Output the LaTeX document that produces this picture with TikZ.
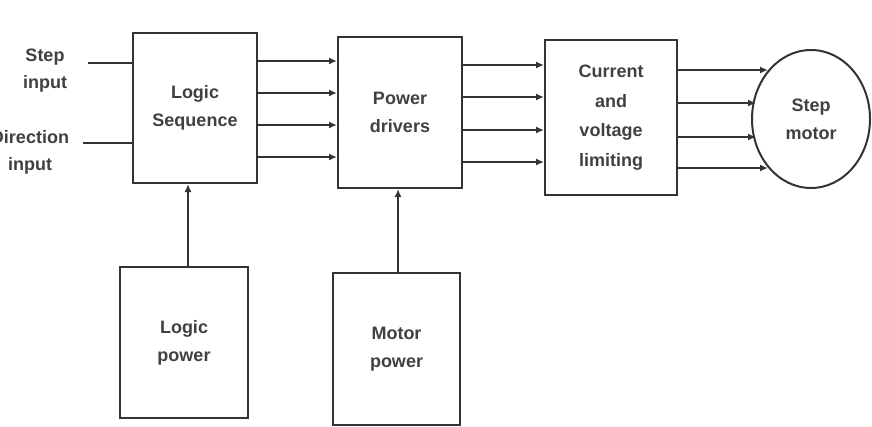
\documentclass[tikz,border=0pt]{standalone}
\usepackage{fontspec}
\setmainfont{Liberation Sans}
\usetikzlibrary{arrows.meta,shapes.geometric}
\begin{document}
\begin{tikzpicture}[x=1pt,y=-1pt,
  blk/.style={draw=black!80,line width=2pt,inner sep=0pt,align=center,font=\fontsize{18}{28}\selectfont\bfseries,text=black!75},
  wire/.style={draw=black!80,line width=2pt},
  arr/.style={wire,-{Latex[length=8pt,width=7pt]}},
  lbl/.style={font=\fontsize{18}{27}\selectfont\bfseries,text=black!75,align=center}]
\useasboundingbox (0,0) rectangle (872,426);
\clip (0,0) rectangle (872,426);
\node[blk,minimum width=124pt,minimum height=150pt] (ls) at (195,108) {Logic\\Sequence};
\node[blk,minimum width=124pt,minimum height=151pt] (pd) at (400,112.5) {Power\\drivers};
\node[blk,minimum width=132pt,minimum height=155pt,font=\fontsize{18}{29.5}\selectfont\bfseries] (cv) at (611,117.5) {Current\\and\\voltage\\limiting};
\node[blk,ellipse,minimum width=118pt,minimum height=138pt] (sm) at (811,119) {Step\\motor};
\node[blk,minimum width=128pt,minimum height=151pt] (lp) at (184,342.5) {Logic\\power};
\node[blk,minimum width=127pt,minimum height=152pt] (mp) at (396.5,349) {Motor\\power};
\node[lbl] (si) at (45,71) {Step\\input};
\node[lbl] (di) at (30,152) {Direction\\input};
\coordinate (sie) at (88,63);
\coordinate (die) at (83,143);
\draw[wire] (sie) -- (sie -| ls.west);
\draw[wire] (die) -- (die -| ls.west);
\foreach \y [count=\i] in {61,93,125,157} {
  \coordinate (a\i) at (257,\y);
  \draw[arr] (a\i) -- (a\i -| pd.west);
}
\foreach \y [count=\i] in {65,97,130,162} {
  \coordinate (b\i) at (462,\y);
  \draw[arr] (b\i) -- (b\i -| cv.west);
}
\foreach \y/\xe [count=\i] in {70/768,103/756,137/756,168/768} {
  \coordinate (c\i) at (677,\y);
  \coordinate (ce\i) at (\xe,\y);
  \draw[arr] (c\i) -- (ce\i);
}
\draw[arr] (lp.north -| 188,0) -- (ls.south -| 188,0);
\draw[arr] (mp.north -| 398,0) -- (pd.south -| 398,0);
\end{tikzpicture}
\end{document}
